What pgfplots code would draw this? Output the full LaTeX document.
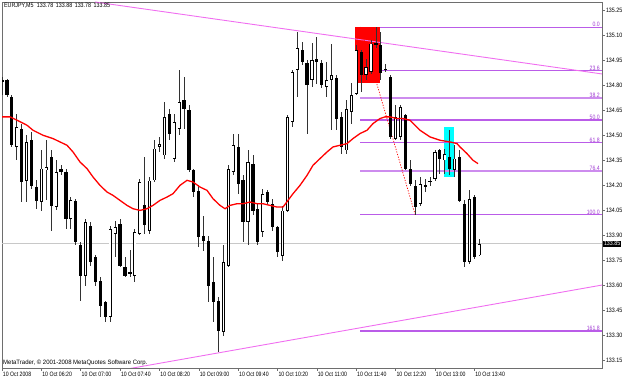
\documentclass[border=0pt]{standalone}
\usepackage{fontspec}
\setmainfont{Liberation Sans}
\usepackage{pgfplots}
\usepackage{pgfplotstable}
\pgfplotsset{compat=1.18}
\definecolor{fibc}{RGB}{186,92,232}
\definecolor{fiblc}{RGB}{205,140,238}
\definecolor{fibtc}{RGB}{160,60,210}
\definecolor{pinkc}{RGB}{240,110,240}
\definecolor{wickc}{RGB}{50,50,50}
\definecolor{axc}{RGB}{110,110,110}
\definecolor{bidc}{RGB}{200,200,200}
\definecolor{cyanc}{RGB}{0,255,255}
\definecolor{redc}{RGB}{255,0,0}
\newcommand\mtfont{\fontsize{6.3}{7}\selectfont}

\pgfplotstableread{
i O H L C
0 134.83 134.85 134.74 134.82
1 134.83 134.84 134.73 134.74
2 134.73 134.74 134.43 134.44
3 134.43 134.63 134.35 134.55
4 134.54 134.57 134.10 134.22
5 134.23 134.50 134.10 134.46
6 134.47 134.52 134.18 134.20
7 134.19 134.23 134.06 134.11
8 134.10 134.41 134.05 134.30
9 134.29 134.47 134.11 134.31
10 134.37 134.41 133.93 134.08
11 134.07 134.35 134.05 134.28
12 134.30 134.32 134.26 134.28
13 134.28 134.30 133.94 134.00
14 134.00 134.13 133.94 134.11
15 134.11 134.12 133.84 133.86
16 133.84 133.86 133.51 133.66
17 133.66 134.00 133.60 133.98
18 133.96 133.98 133.72 133.74
19 133.77 133.78 133.60 133.62
20 133.63 133.65 133.41 133.48
21 133.50 133.51 133.38 133.41
22 133.41 133.96 133.38 133.94
23 133.91 133.99 133.77 133.95
24 133.97 134.00 133.71 133.72
25 133.71 133.77 133.65 133.66
26 133.67 133.81 133.65 133.68
27 133.66 133.94 133.62 133.92
28 133.91 134.24 133.90 134.22
29 134.08 134.37 133.91 133.96
30 133.93 134.25 133.91 134.23
31 134.23 134.47 134.22 134.42
32 134.43 134.49 134.40 134.45
33 134.38 134.70 134.36 134.61
34 134.63 134.66 134.47 134.51
35 134.36 134.63 134.34 134.58
36 134.54 134.89 134.50 134.70
37 134.71 134.85 134.54 134.66
38 134.65 134.68 134.28 134.29
39 134.29 134.30 134.13 134.16
40 134.17 134.20 133.83 133.89
41 133.90 134.02 133.81 133.87
42 133.87 133.90 133.50 133.60
43 133.62 133.77 133.38 133.50
44 133.51 133.53 133.20 133.33
45 133.32 133.84 133.30 133.74
46 133.72 134.32 133.71 134.30
47 134.28 134.51 134.26 134.44
48 134.43 134.51 134.15 134.21
49 134.23 134.26 133.86 133.98
50 133.98 134.41 133.84 134.34
51 134.33 134.38 134.02 134.05
52 134.06 134.09 133.84 133.86
53 133.92 134.18 133.89 134.15
54 134.16 134.17 134.08 134.10
55 134.09 134.12 133.93 133.95
56 133.95 133.96 133.77 133.80
57 133.78 134.08 133.75 134.05
58 134.05 134.62 134.04 134.61
59 134.58 134.89 134.55 134.88
60 134.89 135.12 134.73 135.02
61 135.01 135.06 134.92 134.94
62 134.93 134.95 134.51 134.80
63 134.83 135.05 134.79 134.95
64 134.96 135.09 134.81 134.94
65 134.93 134.95 134.78 134.80
66 134.79 134.94 134.73 134.83
67 134.83 135.05 134.53 134.86
68 134.84 134.86 134.53 134.60
69 134.61 134.64 134.39 134.43
70 134.41 134.71 134.39 134.66
71 134.64 134.81 134.57 134.74
72 134.75 135.04 134.74 135.01
73 135.00 135.01 134.76 134.86
74 134.86 134.96 134.83 134.91
75 134.88 135.07 134.87 135.05
76 135.04 135.15 135.02 135.05
77 135.04 135.12 134.83 134.87
78 134.90 134.93 134.88 134.89
79 134.85 134.86 134.48 134.49
80 134.48 134.68 134.47 134.61
81 134.49 134.68 134.47 134.67
82 134.62 134.63 134.29 134.30
83 134.30 134.35 134.20 134.21
84 134.20 134.23 134.02 134.07
85 134.09 134.25 134.08 134.21
86 134.19 134.24 134.16 134.20
87 134.22 134.25 134.20 134.23
88 134.24 134.41 134.23 134.40
89 134.41 134.42 134.27 134.36
90 134.35 134.42 134.27 134.39
91 134.37 134.53 134.26 134.30
92 134.29 134.44 134.25 134.36
93 134.37 134.41 134.10 134.11
94 134.09 134.11 133.71 133.74
95 133.74 134.17 133.73 134.12
96 134.13 134.14 133.76 133.77
97 133.78 133.88 133.78 133.85
}\candles

\pgfplotstableread{
x p
0 134.61
1.63 134.61
3.05 134.59
5.08 134.56
6.30 134.53
8.33 134.50
10.37 134.48
11.79 134.46
13.21 134.44
14.43 134.40
15.85 134.34
17.28 134.30
18.50 134.25
19.92 134.20
21.34 134.16
22.56 134.14
23.98 134.11
25.41 134.08
26.63 134.06
28.05 134.05
29.47 134.06
30.69 134.08
32.11 134.11
33.54 134.13
34.76 134.15
36.18 134.20
37.60 134.23
38.82 134.22
40.24 134.19
41.67 134.17
42.89 134.12
44.31 134.08
45.33 134.06
46.34 134.08
47.76 134.09
48.98 134.09
50.41 134.10
51.83 134.09
53.05 134.09
54.47 134.08
55.89 134.07
57.11 134.07
58.13 134.11
59.15 134.15
60.57 134.20
62.00 134.26
63.21 134.32
64.63 134.36
66.06 134.40
67.28 134.43
68.70 134.44
70.12 134.45
71.34 134.48
72.76 134.51
74.19 134.53
75.41 134.57
76.83 134.60
77.85 134.61
78.86 134.61
80.28 134.60
81.50 134.60
82.93 134.59
84.96 134.53
86.99 134.49
89.02 134.47
91.06 134.46
92.48 134.45
93.09 134.43
94.51 134.39
95.73 134.35
96.75 134.33
}\ma

\begin{document}
\begin{tikzpicture}
\useasboundingbox (0,0) rectangle (625pt,380pt);
\begin{axis}[name=ax, at={(2pt,12pt)}, anchor=south west,
  scale only axis, width=600pt, height=366pt,
  xmin=0, xmax=121.95, ymin=133.1063, ymax=135.2979,
  axis line style={axc, line width=0.6pt},
  xtick={0,8,16,24,32,40,48,56,64,72,80,88,96},
  xticklabels={10 Oct 2008,10 Oct 06:20,10 Oct 07:00,10 Oct 07:40,10 Oct 08:20,10 Oct 09:00,10 Oct 09:40,10 Oct 10:20,10 Oct 11:00,10 Oct 11:40,10 Oct 12:20,10 Oct 13:00,10 Oct 13:40},
  ytick={133.15,133.30,133.45,133.60,133.75,133.90,134.05,134.20,134.35,134.50,134.65,134.80,134.95,135.10,135.25},
  xtick pos=bottom, ytick pos=right, yticklabel pos=right,
  tick align=outside, major tick length=3pt,
  tick style={axc, line width=0.5pt},
  scaled y ticks=false,
  /pgf/number format/fixed, /pgf/number format/fixed zerofill,
  /pgf/number format/precision=2, /pgf/number format/assume math mode=true,
  yticklabel style={font=\mtfont, anchor=west, xscale=0.85, inner sep=1pt},
  xticklabel style={font=\mtfont, anchor=north west, xscale=0.82, inner sep=1pt},
  clip=true,
]
% bid line
\addplot[draw=bidc, line width=0.8pt, forget plot] coordinates {(0,133.85) (121.95,133.85)};
% cyan rectangle
\addplot[fill=cyanc, draw=none, forget plot] coordinates {(89.84,134.549) (91.87,134.549) (91.87,134.250) (89.84,134.250)} -- cycle;
% fibonacci levels
\addplot[draw=fibc, line width=1.1pt] coordinates {(72.8,135.143) (121.95,135.143)};
\addplot[draw=fibc, line width=1.1pt] coordinates {(72.8,134.885) (121.95,134.885)};
\addplot[draw=fiblc, line width=1.2pt] coordinates {(72.8,134.723) (121.95,134.723)};
\addplot[draw=fibc, line width=1.1pt] coordinates {(72.8,134.591) (121.95,134.591)};
\addplot[draw=fibc, line width=1.1pt] coordinates {(72.8,134.454) (121.95,134.454)};
\addplot[draw=fiblc, line width=1.2pt] coordinates {(72.8,134.286) (121.95,134.286)};
\addplot[draw=fibc, line width=1.1pt] coordinates {(72.8,134.024) (121.95,134.024)};
\addplot[draw=fibc, line width=1.1pt] coordinates {(72.8,133.328) (121.95,133.328)};
% red rectangle
\addplot[fill=redc, draw=none] coordinates {(71.8,135.148) (76.8,135.148) (76.8,134.813) (71.8,134.813)} -- cycle;
% channel lines
\addplot[draw=pinkc, line width=0.9pt] coordinates {(18.9,135.298) (121.95,134.867)};
\addplot[draw=pinkc, line width=0.9pt] coordinates {(25.4,133.100) (121.95,133.603)};
% fib trend line
\addplot[draw=redc, line width=0.7pt, dash pattern=on 1.2pt off 1.5pt] coordinates {(72.8,135.148) (84.0,134.022)};
% wicks
\addplot[draw=none, mark=none, error bars/.cd, y dir=both, y explicit, error mark=none,
  error bar style={draw=wickc, line width=0.8pt, solid}]
  table[x=i, y expr={(\thisrow{H}+\thisrow{L})/2}, y error expr={(\thisrow{H}-\thisrow{L})/2}] {\candles};
% body outlines / bear bodies
\addplot[draw=none, mark=none, error bars/.cd, y dir=both, y explicit, error mark=none,
  error bar style={draw=black, line width=3.2pt, solid, line cap=butt}]
  table[x=i, y expr={(\thisrow{O}+\thisrow{C})/2}, y error expr={max(abs(\thisrow{C}-\thisrow{O})/2,0.003)}] {\candles};
% bull bodies
\addplot[draw=none, mark=none, error bars/.cd, y dir=both, y explicit, error mark=none,
  error bar style={draw=white, line width=1.6pt, solid, line cap=butt}]
  table[x=i, y expr={(\thisrow{O}+\thisrow{C})/2}, y error expr={ifthenelse(\thisrow{C}>\thisrow{O}, max(abs(\thisrow{C}-\thisrow{O})/2-0.005,0), 0)}] {\candles};
% moving average
\addplot[draw=redc, line width=1.3pt] table[x=x, y=p] {\ma};
% fib labels
\node[anchor=south east, inner sep=0.5pt, text=fibtc, font=\mtfont, xscale=0.82] at (axis cs:121.6,135.148) {0.0};
\node[anchor=south east, inner sep=0.5pt, text=fibtc, font=\mtfont, xscale=0.82] at (axis cs:121.6,134.885) {23.6};
\node[anchor=south east, inner sep=0.5pt, text=fibtc, font=\mtfont, xscale=0.82] at (axis cs:121.6,134.723) {38.2};
\node[anchor=south east, inner sep=0.5pt, text=fibtc, font=\mtfont, xscale=0.82] at (axis cs:121.6,134.591) {50.0};
\node[anchor=south east, inner sep=0.5pt, text=fibtc, font=\mtfont, xscale=0.82] at (axis cs:121.6,134.454) {61.8};
\node[anchor=south east, inner sep=0.5pt, text=fibtc, font=\mtfont, xscale=0.82] at (axis cs:121.6,134.286) {76.4};
\node[anchor=south east, inner sep=0.5pt, text=fibtc, font=\mtfont, xscale=0.82] at (axis cs:121.6,134.022) {100.0};
\node[anchor=south east, inner sep=0.5pt, text=fibtc, font=\mtfont, xscale=0.82] at (axis cs:121.6,133.328) {161.8};
\coordinate (bid) at (axis cs:121.95,133.85);
\end{axis}
\node[anchor=west, fill=black, text=white, font=\mtfont, xscale=0.85, inner sep=1pt] at ([xshift=1pt]bid) {133.85};
\node[anchor=north west, inner sep=0pt, font=\mtfont, xscale=0.85] at (4pt,377pt) {EURJPY,M5\hspace{4pt}133.78\hspace{3pt}133.88\hspace{3pt}133.78\hspace{3pt}133.85};
\node[anchor=south west, inner sep=0pt, font=\mtfont, xscale=0.95] at (3pt,14pt) {MetaTrader, © 2001-2008 MetaQuotes Software Corp.};
\end{tikzpicture}
\end{document}
